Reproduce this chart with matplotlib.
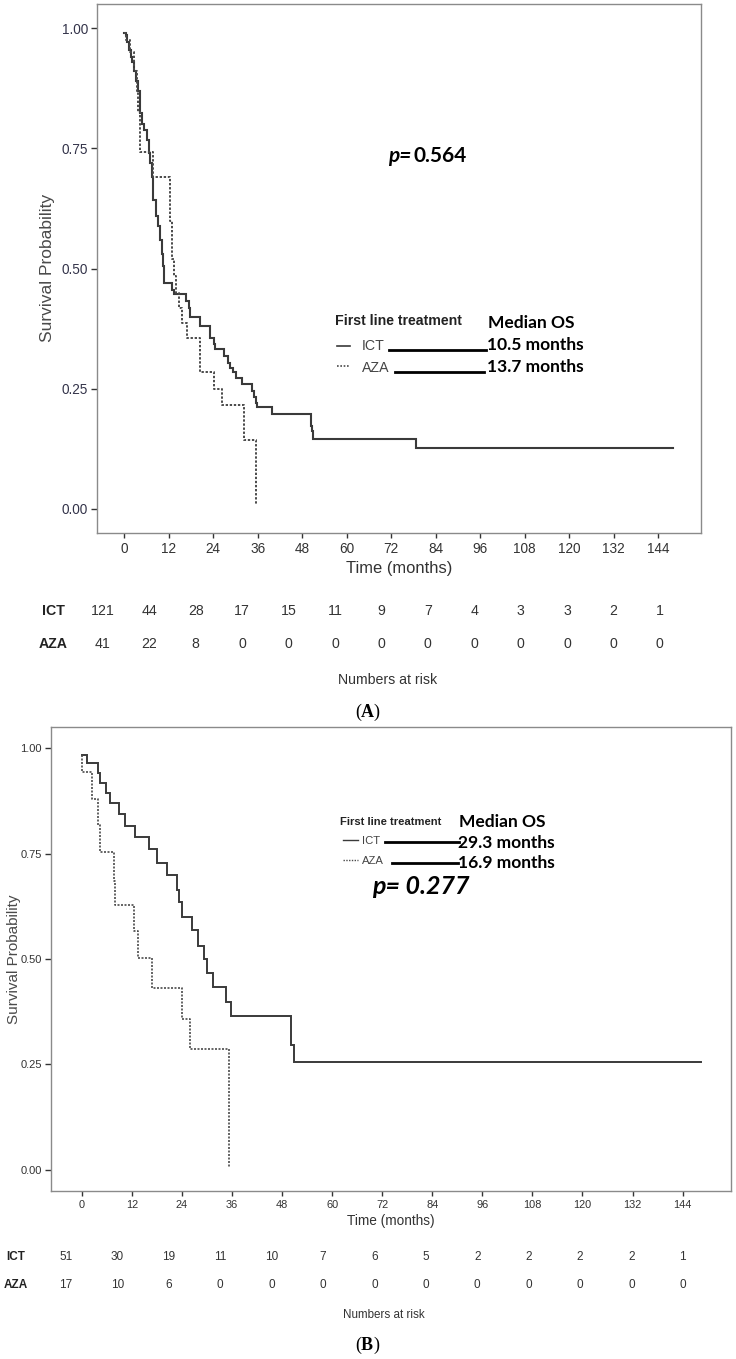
import matplotlib
matplotlib.use('Agg')
import matplotlib.pyplot as plt
from matplotlib import font_manager as fm
from matplotlib.lines import Line2D

W, H, DPI = 736, 1359, 100

# ---------------- data ----------------
time_ticks = [0, 12, 24, 36, 48, 60, 72, 84, 96, 108, 120, 132, 144]
y_ticks = [0.00, 0.25, 0.50, 0.75, 1.00]

# Panel A
ict_a_t = [0, 0.3, 0.8, 1.2, 1.7, 2.1, 2.6, 3.0, 3.6, 4.3, 4.8, 5.2, 6.1, 6.5, 6.8, 7.5, 7.7,
           8.4, 9.1, 9.7, 10.1, 10.4, 10.8, 12.9, 13.3, 16.5, 17.4, 17.8, 20.5, 23.0, 24.3,
           24.5, 26.8, 27.9, 28.6, 29.4, 30.0, 31.8, 34.5, 34.9, 35.5, 35.9, 39.9, 50.3,
           50.7, 51.0, 78.6]
ict_a_s = [0.99, 0.985, 0.97, 0.955, 0.94, 0.93, 0.91, 0.89, 0.87, 0.823, 0.80, 0.788, 0.768,
           0.74, 0.72, 0.69, 0.643, 0.61, 0.588, 0.56, 0.53, 0.505, 0.47, 0.455, 0.446, 0.432,
           0.418, 0.40, 0.38, 0.356, 0.342, 0.332, 0.318, 0.304, 0.294, 0.284, 0.273, 0.259,
           0.245, 0.232, 0.221, 0.211, 0.197, 0.173, 0.162, 0.145, 0.127]
ict_a_end = 148.0
aza_a_t = [0, 0.5, 1.5, 2.5, 3.4, 3.6, 4.1, 7.7, 12.2, 12.9, 13.4, 14.0, 14.7, 15.6, 16.9,
           20.5, 24.1, 26.2, 32.4, 35.4]
aza_a_s = [0.99, 0.975, 0.95, 0.91, 0.868, 0.826, 0.743, 0.69, 0.598, 0.519, 0.484, 0.45,
           0.418, 0.387, 0.356, 0.285, 0.25, 0.216, 0.143, 0.01]
risk_a_ict = [121, 44, 28, 17, 15, 11, 9, 7, 4, 3, 3, 2, 1]
risk_a_aza = [41, 22, 8, 0, 0, 0, 0, 0, 0, 0, 0, 0, 0]
median_a = ['10.5 months', '13.7 months']
p_a = '0.564'

# Panel B
ict_b_t = [0, 1.3, 3.9, 4.3, 5.75, 6.7, 8.9, 10.3, 12.7, 16.1, 18.0, 20.3, 22.7, 23.2, 24.1,
           26.5, 27.9, 29.2, 29.9, 31.5, 34.5, 35.8, 50.2, 50.8]
ict_b_s = [0.983, 0.964, 0.94, 0.918, 0.894, 0.87, 0.843, 0.815, 0.789, 0.76, 0.728, 0.698,
           0.663, 0.635, 0.599, 0.568, 0.532, 0.50, 0.466, 0.433, 0.397, 0.366, 0.295, 0.257]
ict_b_end = 148.5
aza_b_t = [0, 0.1, 2.5, 3.9, 4.3, 7.7, 7.9, 12.5, 13.5, 16.9, 24.1, 26.0, 35.2]
aza_b_s = [0.983, 0.944, 0.88, 0.817, 0.754, 0.686, 0.627, 0.566, 0.503, 0.432, 0.358,
           0.287, 0.005]
risk_b_ict = [51, 30, 19, 11, 10, 7, 6, 5, 2, 2, 2, 2, 1]
risk_b_aza = [17, 10, 6, 0, 0, 0, 0, 0, 0, 0, 0, 0, 0]
median_b = ['29.3 months', '16.9 months']
p_b = '0.277'

groups = ['ICT', 'AZA']
legend_title = 'First line treatment'

# ---------------- fonts ----------------
names = {f.name for f in fm.fontManager.ttflist}
NARROW = 'Liberation Sans Narrow' if 'Liberation Sans Narrow' in names else 'Liberation Sans'
NS = 1.0 if NARROW == 'Liberation Sans Narrow' else 0.85
SANS = 'Liberation Sans'
CAL = 'Lato'
plt.rcParams['font.family'] = [SANS, 'DejaVu Sans']
plt.rcParams['mathtext.fontset'] = 'custom'
plt.rcParams['mathtext.rm'] = 'Liberation Serif'
plt.rcParams['mathtext.bf'] = 'Liberation Serif:bold'

fig = plt.figure(figsize=(W / DPI, H / DPI), dpi=DPI)
fig.patch.set_facecolor('white')


def ft(x, y, s, **kw):
    kw.setdefault('ha', 'center')
    kw.setdefault('va', 'center')
    return fig.text(x / W, 1 - y / H, s, **kw)


def fline(x1, x2, y, **kw):
    fig.add_artist(Line2D([x1 / W, x2 / W], [1 - y / H, 1 - y / H],
                          transform=fig.transFigure, **kw))


def make_axes(l, t, r, b):
    return fig.add_axes([l / W, 1 - b / H, (r - l) / W, (b - t) / H])


ICT_COLOR = '#3a3a3a'
AZA_COLOR = '#4a4a4a'
DOT = (0, (1.2, 0.9))


def draw_panel(ax, ict_t, ict_s, ict_end, aza_t, aza_s, big):
    ax.step(ict_t + [ict_end], ict_s + [ict_s[-1]], where='post', color=ICT_COLOR,
            lw=1.5 if big else 1.4, solid_joinstyle='miter')
    ax.step(aza_t, aza_s, where='post', color=AZA_COLOR, lw=1.4 if big else 1.2,
            linestyle=DOT)
    ax.set_xlim(-7.4, 155.6)
    ax.set_ylim(-0.05, 1.05)
    ax.set_xticks(time_ticks)
    ax.set_yticks(y_ticks)
    ax.set_yticklabels([f'{v:.2f}' for v in y_ticks])
    for sp in ax.spines.values():
        sp.set_color('#8a8a8a')
        sp.set_linewidth(1.0)
    ax.tick_params(axis='both', colors='#333333', width=1.0)
    ax.tick_params(axis='x', length=3.5, pad=3)
    ax.tick_params(axis='y', length=4.5, pad=2)
    if big:
        for lab in ax.get_xticklabels():
            lab.set_fontfamily(NARROW); lab.set_fontsize(11.5 * NS); lab.set_color('#333333')
        for lab in ax.get_yticklabels():
            lab.set_fontfamily(SANS); lab.set_fontsize(9.8); lab.set_color('#34344a')
    else:
        for lab in ax.get_xticklabels():
            lab.set_fontfamily(NARROW); lab.set_fontsize(9.3 * NS); lab.set_color('#333333')
        for lab in ax.get_yticklabels():
            lab.set_fontfamily(SANS); lab.set_fontsize(8); lab.set_color('#333333')


# ---------------- Panel A ----------------
axA = make_axes(97, 4, 701, 533)
draw_panel(axA, ict_a_t, ict_a_s, ict_a_end, aza_a_t, aza_a_s, True)
ft(48, 268, 'Survival Probability', rotation=90, fontsize=12.5, color='#4a4a4a', family=SANS)
ft(399, 568, 'Time (months)', fontsize=14 * NS, color='#333333', family=NARROW)

# risk table A
for i, (a, b) in enumerate(zip(risk_a_ict, risk_a_aza)):
    x = 103 + i * 46.4
    ft(x, 611, str(a), fontsize=12 * NS, color='#333333', family=NARROW)
    ft(x, 644, str(b), fontsize=12 * NS, color='#333333', family=NARROW)
ft(53, 611, groups[0], fontsize=12 * NS, weight='bold', color='#222222', family=NARROW)
ft(53, 644, groups[1], fontsize=12 * NS, weight='bold', color='#222222', family=NARROW)
ft(388, 680, 'Numbers at risk', fontsize=12 * NS, color='#333333', family=NARROW)

# legend A
ft(335, 321, legend_title, ha='left', fontsize=12 * NS, weight='bold', color='#222222',
   family=NARROW)
fline(337, 350, 346, color=ICT_COLOR, lw=1.2)
fline(337, 350, 366, color=AZA_COLOR, lw=1.2, linestyle=(0, (1, 1)))
ft(362, 346, groups[0], ha='left', fontsize=12 * NS, color='#444444', family=NARROW)
ft(362, 368, groups[1], ha='left', fontsize=12 * NS, color='#444444', family=NARROW)
fline(389, 486, 350, color='black', lw=2.0)
fline(395, 484, 372, color='black', lw=2.0)
ft(488, 323, 'Median OS', ha='left', fontsize=12.5, weight='bold', color='black', family=CAL)
ft(487, 345, median_a[0], ha='left', fontsize=12.5, weight='bold', color='black', family=CAL)
ft(487, 367, median_a[1], ha='left', fontsize=12.5, weight='bold', color='black', family=CAL)
ft(388, 156, 'p=', ha='left', fontsize=15, weight='bold', style='italic', color='black',
   family=CAL)
ft(413, 156, p_a, ha='left', fontsize=15, weight='bold', color='black', family=CAL)

ft(368, 712, r'($\mathbf{A}$)', fontsize=13, family='Liberation Serif', color='black')

# ---------------- Panel B ----------------
axB = make_axes(51, 727, 731, 1191)
draw_panel(axB, ict_b_t, ict_b_s, ict_b_end, aza_b_t, aza_b_s, False)
ft(14, 959, 'Survival Probability', rotation=90, fontsize=11, color='#4a4a4a', family=SANS)
ft(391, 1221, 'Time (months)', fontsize=11.5 * NS, color='#333333', family=NARROW)

for i, (a, b) in enumerate(zip(risk_b_ict, risk_b_aza)):
    x = 66 + i * 51.4
    ft(x, 1257, str(a), fontsize=10 * NS, color='#333333', family=NARROW)
    ft(x, 1285, str(b), fontsize=10 * NS, color='#333333', family=NARROW)
ft(16, 1257, groups[0], fontsize=10 * NS, weight='bold', color='#222222', family=NARROW)
ft(16, 1285, groups[1], fontsize=10 * NS, weight='bold', color='#222222', family=NARROW)
ft(384, 1315, 'Numbers at risk', fontsize=9.8 * NS, color='#333333', family=NARROW)

# legend B
ft(340, 822, legend_title, ha='left', fontsize=9.5 * NS, weight='bold', color='#222222',
   family=NARROW)
fline(343, 358, 840, color=ICT_COLOR, lw=1.0)
fline(343, 358, 860, color=AZA_COLOR, lw=1.0, linestyle=(0, (1, 1)))
ft(362, 841, groups[0], ha='left', fontsize=9.5 * NS, color='#444444', family=NARROW)
ft(362, 861, groups[1], ha='left', fontsize=9.5 * NS, color='#444444', family=NARROW)
fline(385, 459, 842, color='black', lw=2.0)
fline(392, 458, 863, color='black', lw=2.0)
ft(459, 822, 'Median OS', ha='left', fontsize=12.5, weight='bold', color='black', family=CAL)
ft(458, 843, median_b[0], ha='left', fontsize=12.5, weight='bold', color='black', family=CAL)
ft(458, 863, median_b[1], ha='left', fontsize=12.5, weight='bold', color='black', family=CAL)
ft(372, 886, 'p= ' + p_b, ha='left', fontsize=18, weight='bold', style='italic',
   color='black', family=CAL)

ft(368, 1345, r'($\mathbf{B}$)', fontsize=13, family='Liberation Serif', color='black')

fig.savefig('out.png', dpi=DPI, facecolor='white')
